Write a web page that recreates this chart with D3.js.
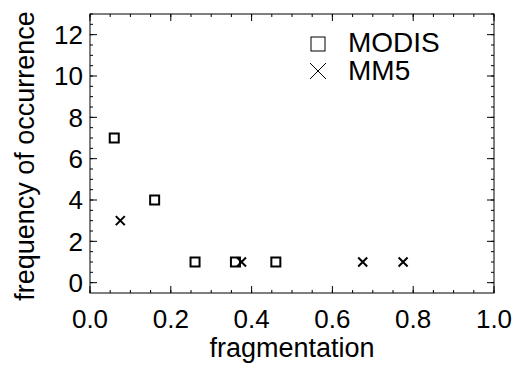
<!DOCTYPE html>
<html>
<head>
<meta charset="utf-8">
<script src="https://cdn.jsdelivr.net/npm/d3@7"></script>
<style>
  body { margin: 0; background: #fff; }
  text { font-family: "Liberation Sans", Arial, sans-serif; fill: #000; }
</style>
</head>
<body>
<svg id="chart" width="515" height="370"></svg>
<script>
// data
var modis_x = [0.06, 0.16, 0.26, 0.36, 0.46];
var modis_y = [7, 4, 1, 1, 1];
var mm5_x = [0.075, 0.375, 0.675, 0.775];
var mm5_y = [3, 1, 1, 1];
var x_ticks = [0, 0.2, 0.4, 0.6, 0.8, 1.0];
var y_ticks = [0, 2, 4, 6, 8, 10, 12];
var legend_names = ['MODIS', 'MM5'];

var plot = {left: 90, right: 494, top: 14, bottom: 293};

var svg = d3.select('#chart');

var x_scale = d3.scaleLinear().domain([0, 1]).range([plot.left, plot.right]);
var y_scale = d3.scaleLinear().domain([-0.5, 13]).range([plot.bottom, plot.top]);

var x_minor = d3.range(0, 1.0001, 0.05);
var y_minor = d3.range(0, 13.001, 0.5);

// frame
svg.append('rect')
  .attr('x', plot.left)
  .attr('y', plot.top)
  .attr('width', plot.right - plot.left)
  .attr('height', plot.bottom - plot.top)
  .style('fill', 'none')
  .style('stroke', '#000')
  .style('stroke-width', '1px');

// ticks, all pointing inward on four sides
function tick_lines(cls, vals, len, horizontal) {
  var g = svg.append('g').attr('class', cls);
  vals.forEach(function(v) {
    if (horizontal) {
      var xx = x_scale(v);
      g.append('line').attr('x1', xx).attr('x2', xx).attr('y1', plot.bottom).attr('y2', plot.bottom - len);
      g.append('line').attr('x1', xx).attr('x2', xx).attr('y1', plot.top).attr('y2', plot.top + len);
    } else {
      var yy = y_scale(v);
      g.append('line').attr('y1', yy).attr('y2', yy).attr('x1', plot.left).attr('x2', plot.left + len);
      g.append('line').attr('y1', yy).attr('y2', yy).attr('x1', plot.right).attr('x2', plot.right - len);
    }
  });
  g.selectAll('line').style('stroke', '#000').style('stroke-width', '1px');
}
tick_lines('x_minor', x_minor, 3, true);
tick_lines('x_major', x_ticks, 7, true);
tick_lines('y_minor', y_minor, 3, false);
tick_lines('y_major', y_ticks, 7, false);

// tick labels
svg.append('g')
  .selectAll('text')
  .data(x_ticks)
  .enter()
  .append('text')
  .attr('x', function(d) { return x_scale(d); })
  .attr('y', 328)
  .attr('text-anchor', 'middle')
  .style('font-size', '26px')
  .text(function(d) { return d3.format('.1f')(d); });

svg.append('g')
  .selectAll('text')
  .data(y_ticks)
  .enter()
  .append('text')
  .attr('x', 83)
  .attr('y', function(d) { return y_scale(d); })
  .attr('dy', '0.36em')
  .attr('text-anchor', 'end')
  .style('font-size', '26px')
  .text(function(d) { return d; });

// axis titles
svg.append('text')
  .attr('x', (plot.left + plot.right) / 2)
  .attr('y', 357)
  .attr('text-anchor', 'middle')
  .style('font-size', '27px')
  .text('fragmentation');

svg.append('text')
  .attr('transform', 'translate(34,' + 156 + ') rotate(-90)')
  .attr('text-anchor', 'middle')
  .style('font-size', '27px')
  .text('frequency of occurrence');

// MODIS squares
var sq = 9;
svg.append('g')
  .selectAll('rect')
  .data(d3.zip(modis_x, modis_y))
  .enter()
  .append('rect')
  .attr('x', function(d) { return x_scale(d[0]) - sq / 2; })
  .attr('y', function(d) { return y_scale(d[1]) - sq / 2; })
  .attr('width', sq)
  .attr('height', sq)
  .style('fill', 'none')
  .style('stroke', '#000')
  .style('stroke-width', '2px');

// MM5 crosses
var cr = 4.5;
svg.append('g')
  .selectAll('path')
  .data(d3.zip(mm5_x, mm5_y))
  .enter()
  .append('path')
  .attr('d', function(d) {
    var cx = x_scale(d[0]), cy = y_scale(d[1]);
    return 'M' + (cx - cr) + ',' + (cy - cr) + 'L' + (cx + cr) + ',' + (cy + cr) +
           'M' + (cx - cr) + ',' + (cy + cr) + 'L' + (cx + cr) + ',' + (cy - cr);
  })
  .style('fill', 'none')
  .style('stroke', '#000')
  .style('stroke-width', '2px');

// legend
var leg = svg.append('g').attr('class', 'legend');
leg.append('rect')
  .attr('x', 311).attr('y', 37).attr('width', 14).attr('height', 14)
  .style('fill', 'none').style('stroke', '#000').style('stroke-width', '1px');
leg.append('path')
  .attr('d', 'M310,63L326,79M310,79L326,63')
  .style('fill', 'none').style('stroke', '#000').style('stroke-width', '1px');
leg.selectAll('text')
  .data(legend_names)
  .enter()
  .append('text')
  .attr('x', 348)
  .attr('y', function(d, i) { return 52 + i * 28; })
  .style('font-size', '28px')
  .text(function(d) { return d; });
</script>
</body>
</html>
